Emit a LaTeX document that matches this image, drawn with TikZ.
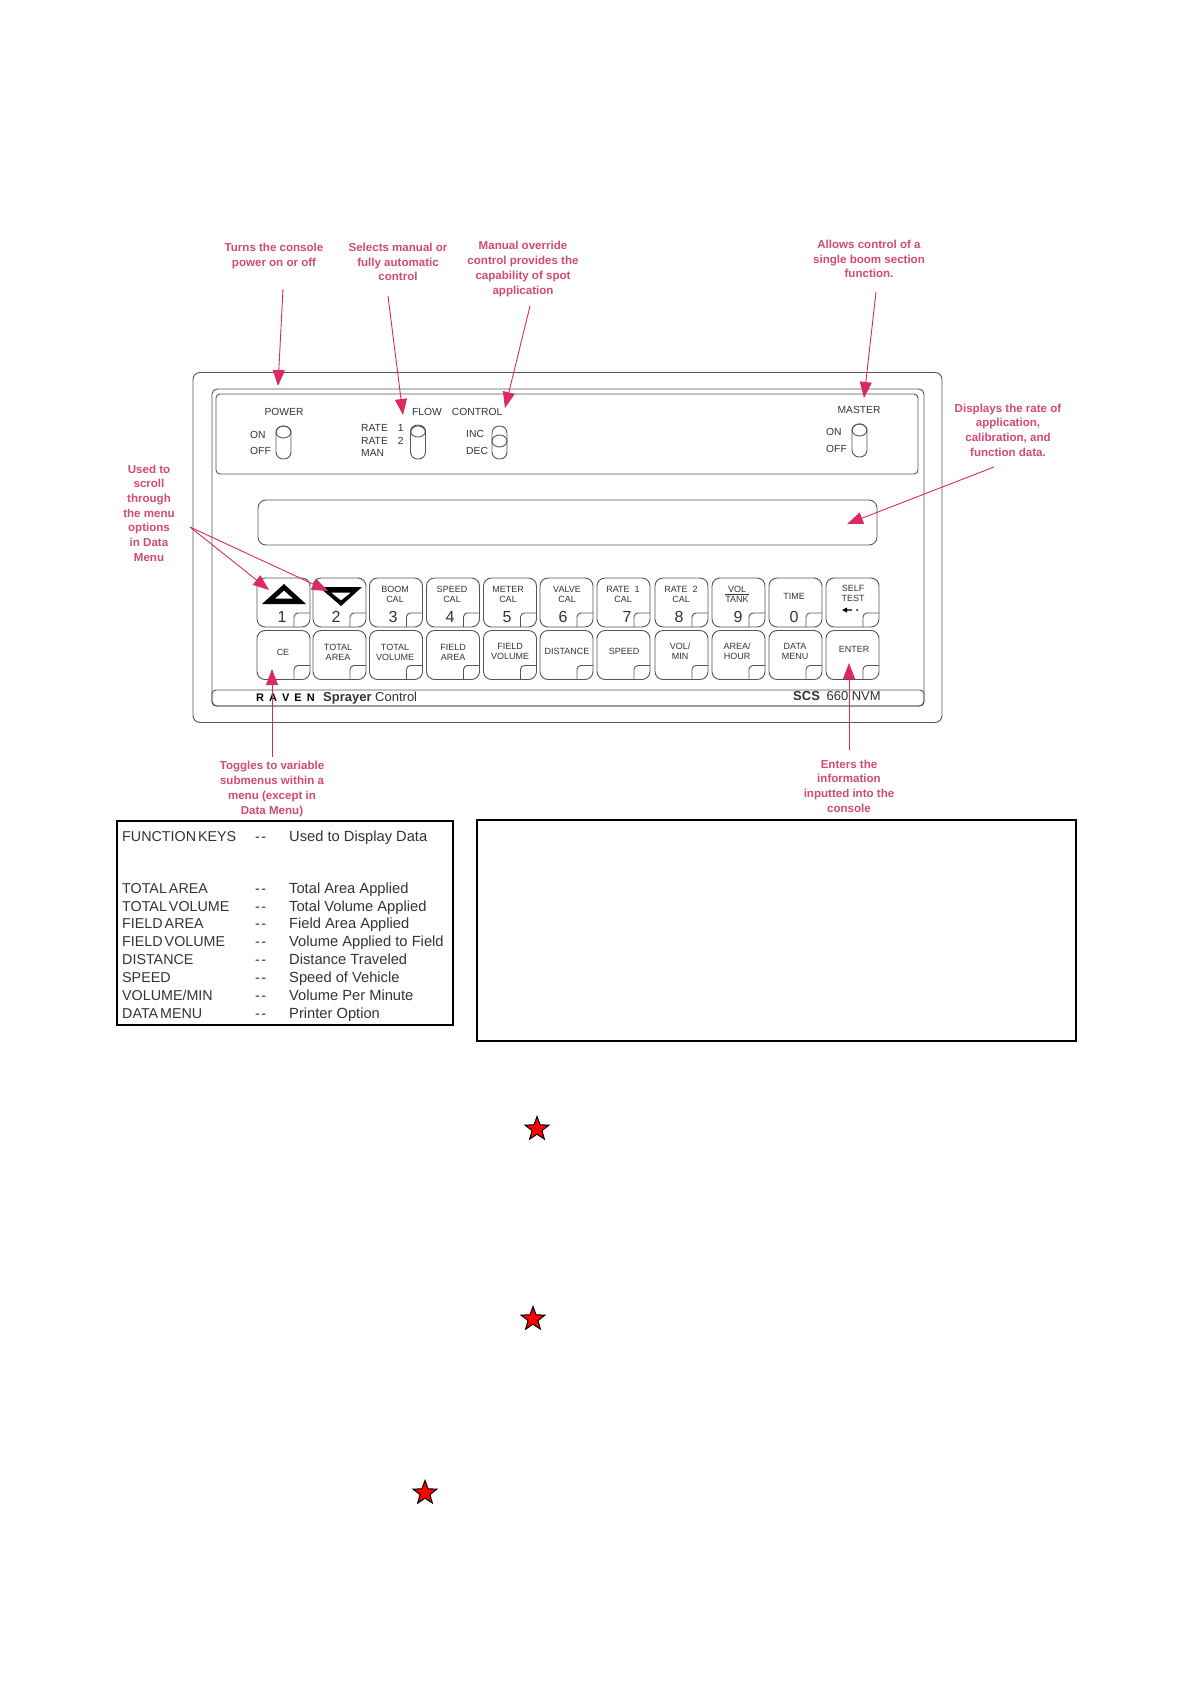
\documentclass[tikz,border=0pt]{standalone}
\usepackage{fontspec}
\setmainfont{Liberation Sans}
\usetikzlibrary{arrows.meta,shapes.geometric}
\definecolor{notepink}{HTML}{D24A75}
\definecolor{arrowpink}{HTML}{D92B5E}
\definecolor{devicegray}{HTML}{555555}
\definecolor{printgray}{HTML}{333333}
\begin{document}
\begin{tikzpicture}
        [x=1pt,y=-1pt,
        panel/.style={rectangle,draw=devicegray,line width=0.9pt,inner sep=0pt},
        key/.style={panel,rounded corners=8pt,minimum width=53pt,minimum height=49pt,
            path picture={\draw[devicegray,line width=0.9pt,rounded corners=4pt]
                ([xshift=-16pt]path picture bounding box.south east) |- ([yshift=14pt]path picture bounding box.south east);}},
        word/.style={inner sep=0pt,align=center,text=printgray,font=\fontsize{9}{10}\selectfont},
        num/.style={inner sep=0pt,text=printgray,font=\fontsize{16}{16}\selectfont},
        plate/.style={inner sep=0pt,anchor=west,text=printgray,font=\fontsize{10.3}{12}\selectfont},
        toggle/.style={panel,rounded corners=7pt,minimum width=15pt,minimum height=33pt},
        lever/.style={ellipse,draw=devicegray,line width=0.9pt,inner sep=0pt,minimum width=15pt,minimum height=12pt},
        note/.style={inner sep=0pt,align=center,text=notepink,font=\fontsize{11.55}{14.7}\selectfont\bfseries},
        callout/.style={arrowpink,line width=0.9pt,-{Triangle[length=16pt,width=12pt]}},
        tablekey/.style={inner sep=0pt,anchor=base west,text=printgray,font=\fontsize{14.3}{17}\selectfont,execute at begin node={\spaceskip=2pt\relax}},
        tabletext/.style={inner sep=0pt,anchor=base west,text=printgray,font=\fontsize{14.7}{17}\selectfont},
        tablebox/.style={rectangle,draw=black,line width=1.6pt,inner sep=0pt},
        starmark/.style={star,star points=5,star point ratio=2.4,draw=black,fill=red,line width=1pt,inner sep=0pt,minimum size=25pt},
        ]
        \useasboundingbox (0,0) rectangle (1191,1684);
        % console
        \node[panel,rounded corners=7pt,minimum width=749pt,minimum height=350pt] (case) at (567.5,547.5) {};
        \node[panel,rounded corners=5pt,minimum width=712pt,minimum height=317pt] (front) at (568,547.5) {};
        \node[panel,rounded corners=4pt,minimum width=702pt,minimum height=80pt] (switches) at (567,434) {};
        \node[panel,rounded corners=8pt,minimum width=619pt,minimum height=45pt] (display) at (567.5,522.5) {};
        \node[panel,rounded corners=4pt,minimum width=712pt,minimum height=16pt] (strip) at (568,698) {};
        % switches
        \node[plate,anchor=center] (power) at (284,412) {POWER};
        \node[plate] (power-on) at (250,435) {ON};
        \node[plate] (power-off) at (250,451) {OFF};
        \node[toggle] (toggle-power) at (283.5,442.5) {};
        \node[lever] (lever-power) at (283.5,432) {};
        \node[plate] (flow) at (412,412) {FLOW\hspace{10pt}CONTROL};
        \node[plate] (rate-1) at (361,428) {RATE\hspace{10pt}1};
        \node[plate] (rate-2) at (361,441) {RATE\hspace{10pt}2};
        \node[plate] (man) at (361,453) {MAN};
        \node[toggle] (toggle-rate) at (418,442.5) {};
        \node[lever] (lever-rate) at (418,431) {};
        \node[plate] (inc) at (466,434) {INC};
        \node[plate] (dec) at (466,451) {DEC};
        \node[toggle] (toggle-inc) at (499.5,442.5) {};
        \node[lever] (lever-inc) at (499.5,441) {};
        \node[plate,anchor=center] (master) at (859,410) {MASTER};
        \node[plate] (master-on) at (826,432) {ON};
        \node[plate] (master-off) at (826,449) {OFF};
        \node[toggle] (toggle-master) at (859.5,440.5) {};
        \node[lever] (lever-master) at (859.5,430) {};
        % upper keys
        \node[key] (key-1) at (283.5,602.5) {};
        \node[key] (key-2) at (339.5,602.5) {};
        \node[key] (key-3) at (396,602.5) {};
        \node[key] (key-4) at (453,602.5) {};
        \node[key] (key-5) at (510,602.5) {};
        \node[key] (key-6) at (566.5,602.5) {};
        \node[key] (key-7) at (623.5,602.5) {};
        \node[key] (key-8) at (681.5,602.5) {};
        \node[key] (key-9) at (738.5,602.5) {};
        \node[key] (key-0) at (795.5,602.5) {};
        \node[key] (key-self) at (852.5,602.5) {};
        \fill[black,even odd rule] (262,604) -- (306,604) -- (284,584) -- cycle (275,598.5) -- (293,598.5) -- (284,590.5) -- cycle;
        \fill[black,even odd rule] (319,587) -- (362,587) -- (341,606) -- cycle (331,592.5) -- (351,592.5) -- (341,600.5) -- cycle;
        \node[num] (num-1) at (282,617) {1};
        \node[num] (num-2) at (336,617) {2};
        \node[word] (word-3) at (395,594) {BOOM\\CAL};
        \node[num] (num-3) at (393,617) {3};
        \node[word] (word-4) at (452,594) {SPEED\\CAL};
        \node[num] (num-4) at (450,617) {4};
        \node[word] (word-5) at (508,594) {METER\\CAL};
        \node[num] (num-5) at (507,617) {5};
        \node[word] (word-6) at (567,594) {VALVE\\CAL};
        \node[num] (num-6) at (563,617) {6};
        \node[word] (word-7) at (623,594) {RATE\hspace{5pt}1\\CAL};
        \node[num] (num-7) at (627,617) {7};
        \node[word] (word-8) at (681,594) {RATE\hspace{5pt}2\\CAL};
        \node[num] (num-8) at (679,617) {8};
        \node[word] (word-9) at (737,594) {VOL\\TANK};
        \draw[printgray,line width=0.7pt] (word-9.west) -- (word-9.east);
        \node[num] (num-9) at (738,617) {9};
        \node[word] (word-0) at (794,596) {TIME};
        \node[num] (num-0) at (794,617) {0};
        \node[word] (word-self) at (853,593) {SELF\\TEST};
        \fill[black] (842,610) -- (847,607.5) -- (847,612.5) -- cycle (847,609.3) rectangle (852,610.7) (857,610) circle (1);
        % lower keys
        \node[key] (key-ce) at (283.5,655) {};
        \node[key] (key-total-area) at (339.5,655) {};
        \node[key] (key-total-volume) at (396,655) {};
        \node[key] (key-field-area) at (453,655) {};
        \node[key] (key-field-volume) at (510,655) {};
        \node[key] (key-distance) at (566.5,655) {};
        \node[key] (key-speed) at (623.5,655) {};
        \node[key] (key-vol-min) at (681.5,655) {};
        \node[key] (key-area-hour) at (738.5,655) {};
        \node[key] (key-data-menu) at (795.5,655) {};
        \node[key] (key-enter) at (852.5,655) {};
        \node[word] (word-ce) at (283,652) {CE};
        \node[word] (word-total-area) at (338,652) {TOTAL\\AREA};
        \node[word] (word-total-volume) at (395,652) {TOTAL\\VOLUME};
        \node[word] (word-field-area) at (453,652) {FIELD\\AREA};
        \node[word] (word-field-volume) at (510,651) {FIELD\\VOLUME};
        \node[word] (word-distance) at (567,651) {DISTANCE};
        \node[word] (word-speed) at (624,651) {SPEED};
        \node[word] (word-vol-min) at (680,651) {VOL/\\MIN};
        \node[word] (word-area-hour) at (737,651) {AREA/\\HOUR};
        \node[word] (word-data-menu) at (795,651) {DATA\\MENU};
        \node[word] (word-enter) at (854,649) {ENTER};
        % strip lettering
        \node[inner sep=0pt,anchor=west,text=black,font=\fontsize{11}{12}\selectfont\bfseries] (raven) at (256,698) {R\hspace{5pt}A\hspace{5pt}V\hspace{5pt}E\hspace{5pt}N};
        \node[inner sep=0pt,anchor=west,text=printgray,font=\fontsize{13}{14}\selectfont] (sprayer) at (323,698) {\textbf{Sprayer} Control};
        \node[inner sep=0pt,anchor=west,text=printgray,font=\fontsize{13}{14}\selectfont] (model) at (793,696) {\textbf{SCS}\hspace{3pt} 660 NVM};
        % notes
        \node[note] (note-power) at (274,256) {Turns the console\\power on or off};
        \node[note] (note-rate) at (398,262) {Selects manual or\\fully automatic\\control};
        \node[note] (note-override) at (523,269) {Manual override\\control provides the\\capability of spot\\application};
        \node[note] (note-master) at (869,259) {Allows control of a\\single boom section\\function.};
        \node[note] (note-display) at (1008,430) {Displays the rate of\\application,\\calibration, and\\function data.};
        \node[note] (note-scroll) at (149,513) {Used to\\scroll\\through\\the menu\\options\\in Data\\Menu};
        \node[note] (note-ce) at (272,789) {Toggles to variable\\submenus within a\\menu (except in\\Data Menu)};
        \node[note] (note-enter) at (849,786) {Enters the\\information\\inputted into the\\console};
        % arrows
        \coordinate (tail-power) at (283,289);
        \coordinate (tip-power) at (278,386);
        \coordinate (tail-rate) at (388,296);
        \coordinate (tip-rate) at (403,415);
        \coordinate (tail-override) at (530,306);
        \coordinate (tip-override) at (505,408);
        \coordinate (tail-master) at (876,292);
        \coordinate (tip-master) at (864,398);
        \coordinate (tail-display) at (994,467);
        \coordinate (tip-display) at (847,524);
        \coordinate (tail-scroll) at (190,527);
        \coordinate (tip-up) at (269,590);
        \coordinate (tip-down) at (328,591);
        \coordinate (tail-ce) at (272,757);
        \coordinate (tip-ce) at (272,669);
        \coordinate (tail-enter) at (849,750);
        \coordinate (tip-enter) at (849,663);
        \draw[callout] (tail-power) -- (tip-power);
        \draw[callout] (tail-rate) -- (tip-rate);
        \draw[callout] (tail-override) -- (tip-override);
        \draw[callout] (tail-master) -- (tip-master);
        \draw[callout] (tail-display) -- (tip-display);
        \draw[callout] (tail-scroll) -- (tip-up);
        \draw[callout] (tail-scroll) -- (tip-down);
        \draw[callout] (tail-ce) -- (tip-ce);
        \draw[callout] (tail-enter) -- (tip-enter);
        % table
        \node[tablebox,minimum width=336pt,minimum height=204pt] (table) at (285,923) {};
        \node[tablebox,minimum width=599pt,minimum height=221pt] (blank) at (776.5,930.5) {};
        \node[tablekey] (fn-key) at (122,841) {FUNCTION KEYS};
        \node[tablekey] (fn-dash) at (255,841) {-\hspace{1.5pt}-};
        \node[tabletext] (fn-text) at (289,841) {Used to Display Data};
        \node[tablekey] (ta-key) at (122,893) {TOTAL AREA};
        \node[tablekey] (ta-dash) at (255,893) {-\hspace{1.5pt}-};
        \node[tabletext] (ta-text) at (289,893) {Total Area Applied};
        \node[tablekey] (tv-key) at (122,911) {TOTAL VOLUME};
        \node[tablekey] (tv-dash) at (255,911) {-\hspace{1.5pt}-};
        \node[tabletext] (tv-text) at (289,911) {Total Volume Applied};
        \node[tablekey] (fa-key) at (122,928) {FIELD AREA};
        \node[tablekey] (fa-dash) at (255,928) {-\hspace{1.5pt}-};
        \node[tabletext] (fa-text) at (289,928) {Field Area Applied};
        \node[tablekey] (fv-key) at (122,946) {FIELD VOLUME};
        \node[tablekey] (fv-dash) at (255,946) {-\hspace{1.5pt}-};
        \node[tabletext] (fv-text) at (289,946) {Volume Applied to Field};
        \node[tablekey] (di-key) at (122,964) {DISTANCE};
        \node[tablekey] (di-dash) at (255,964) {-\hspace{1.5pt}-};
        \node[tabletext] (di-text) at (289,964) {Distance Traveled};
        \node[tablekey] (sp-key) at (122,982) {SPEED};
        \node[tablekey] (sp-dash) at (255,982) {-\hspace{1.5pt}-};
        \node[tabletext] (sp-text) at (289,982) {Speed of Vehicle};
        \node[tablekey] (vm-key) at (122,1000) {VOLUME/MIN};
        \node[tablekey] (vm-dash) at (255,1000) {-\hspace{1.5pt}-};
        \node[tabletext] (vm-text) at (289,1000) {Volume Per Minute};
        \node[tablekey] (dm-key) at (122,1018) {DATA MENU};
        \node[tablekey] (dm-dash) at (255,1018) {-\hspace{1.5pt}-};
        \node[tabletext] (dm-text) at (289,1018) {Printer Option};
        % stars
        \node[starmark] (star-1) at (537,1129) {};
        \node[starmark] (star-2) at (533,1319) {};
        \node[starmark] (star-3) at (425,1493) {};
    \end{tikzpicture}
\end{document}
